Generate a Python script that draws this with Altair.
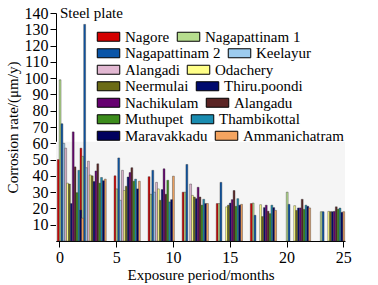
import altair as alt
import pandas as pd

months = [1, 3, 6, 9, 12, 15, 18, 21, 24]
sites = ["Nagore", "Nagapattinam 1", "Nagapattinam 2", "Keelayur", "Alangadi",
         "Odachery", "Neermulai", "Thiru.poondi", "Nachikulam", "Alangadu",
         "Muthupet", "Thambikottal", "Maravakkadu", "Ammanichatram"]
colors = ["#d40000", "#b6dd8e", "#0a55a8", "#9ccbee", "#e2b8d2", "#ffff88",
          "#6b6b16", "#000a6e", "#660070", "#5a2424", "#3c8c1c", "#1a8cb0",
          "#00005e", "#f4a460"]

nagore        = [50, 57, 40, 39.5, 30, 23, 23, None, None]
nagapattinam1 = [99, 52, 32, 28.7, 30, 23, 23.3, 30, 18]
nagapattinam2 = [72, 133, 51, 43.4, 47, 36, 15.8, 22.5, 18]
keelayur      = [60, 45, 25, 30, None, None, None, None, None]
alangadi      = [57, 49, 43.4, 36, 35, None, None, None, None]
odachery      = [35.5, 40.5, 31, 32, 28, 21, 22.3, 21.7, 18.2]
neermulai     = [35, 40, 33.6, 25, 27, 22, 15, 18.8, 18]
thirupoondi   = [23, 36.5, 39.3, 31.6, 26, 23.3, 20.5, 20.3, 18]
nachikulam    = [67, 43, 42, 44.3, 33, 25.4, 22, 20.3, 18.2]
alangadu      = [45.5, 47.4, 45, 28.7, 27, 31, 18.3, 25.6, 21]
muthupet      = [29.7, 35.5, 36.7, 37.3, 22, 21.3, 16.8, 19.4, 19.5]
thambikottal  = [43.4, 39, 38, 24, 25.6, 26, 22, 22, 20.2]
maravakkadu   = [19, 37, 32, 25.4, 23, 22, 20.5, 21.3, 17.6]
ammanichatram = [14, 38, 36.7, 39.8, 23, 22.5, 18.8, 20.3, 18]

series = [nagore, nagapattinam1, nagapattinam2, keelayur, alangadi, odachery,
          neermulai, thirupoondi, nachikulam, alangadu, muthupet, thambikottal,
          maravakkadu, ammanichatram]

rows = []
for i, (name, vals) in enumerate(zip(sites, series)):
    for m, v in zip(months, vals):
        if v is not None:
            rows.append({"site": name, "idx": i, "month": m, "rate": v})
df = pd.DataFrame(rows)

FONT = "Liberation Serif"
xscale = alt.Scale(domain=[-0.3, 25.15], nice=False, zero=False)
yscale = alt.Scale(domain=[0, 140], nice=False)

xaxis = alt.Axis(values=[0, 5, 10, 15, 20, 25], title="Exposure period/months",
                 format="d", labelOverlap=False, tickCount=30)
yaxis = alt.Axis(values=list(range(10, 150, 10)), labelOverlap=False,
                 tickCount=30, title="Corrosion rate/(μm/y)")

bg = alt.Chart(pd.DataFrame({"a": [0]})).mark_rect(color="#f5f5f5").encode(
    x=alt.X("x0:Q", scale=xscale, axis=xaxis), x2="x1:Q",
    y=alt.Y("y0:Q", scale=yscale, axis=yaxis), y2="y1:Q",
).transform_calculate(x0="-0.3", x1="25.15", y0="0", y1="61")

base = alt.Chart(df).transform_calculate(
    x0="datum.month + (datum.idx - 7.2) * 0.165",
    x1="datum.month + (datum.idx - 6.2) * 0.165",
    base="0",
).mark_bar(stroke="#333333", strokeWidth=0.4)

layers = [bg]
for r in range(7):
    pair = sites[2 * r: 2 * r + 2]
    pcol = colors[2 * r: 2 * r + 2]
    layer = base.transform_filter(
        alt.FieldOneOfPredicate(field="site", oneOf=pair)
    ).encode(
        x=alt.X("x0:Q", scale=xscale, axis=xaxis),
        x2="x1:Q",
        y=alt.Y("rate:Q", scale=yscale, axis=yaxis),
        y2="base:Q",
        color=alt.Color("site:N", scale=alt.Scale(domain=pair, range=pcol),
                        legend=alt.Legend(orient="none", legendX=45,
                                          legendY=16 + 16.5 * r,
                                          direction="horizontal", title=None,
                                          symbolType="M-2.5,-1H2.5V1H-2.5Z",
                                          symbolSize=81, symbolStrokeColor="black",
                                          symbolStrokeWidth=1, symbolOpacity=1,
                                          labelFont=FONT, labelFontSize=15,
                                          labelColor="black", labelOffset=9,
                                          columnPadding=5, padding=0,
                                          labelLimit=200)),
        order=alt.Order("rate:Q", sort="descending"),
    )
    layers.append(layer)

label = alt.Chart(pd.DataFrame({"t": ["Steel plate"]})).mark_text(
    font=FONT, fontSize=15, align="left", baseline="alphabetic", color="black"
).encode(x=alt.datum(0.05, scale=xscale), y=alt.datum(137, scale=yscale), text="t:N")
layers.append(label)

chart = alt.layer(*layers).resolve_scale(color="independent").resolve_legend(
    color="independent"
).properties(
    width=289, height=228,
    autosize=alt.AutoSizeParams(type="none"),
    padding={"left": 56, "top": 13, "right": 33, "bottom": 44},
    background="white",
).configure_view(strokeWidth=0).configure_axis(
    grid=False, labelFont=FONT, labelFontSize=16, labelColor="black",
    labelOverlap=False,
    titleFont=FONT, titleFontSize=15, titleFontWeight="normal", titleColor="black",
    domainColor="black", tickColor="black", tickSize=6, labelPadding=2,
).configure_axisY(titlePadding=4).configure_axisX(titlePadding=2)

chart.save("out.html", embed_options={"renderer": "svg", "actions": False})
